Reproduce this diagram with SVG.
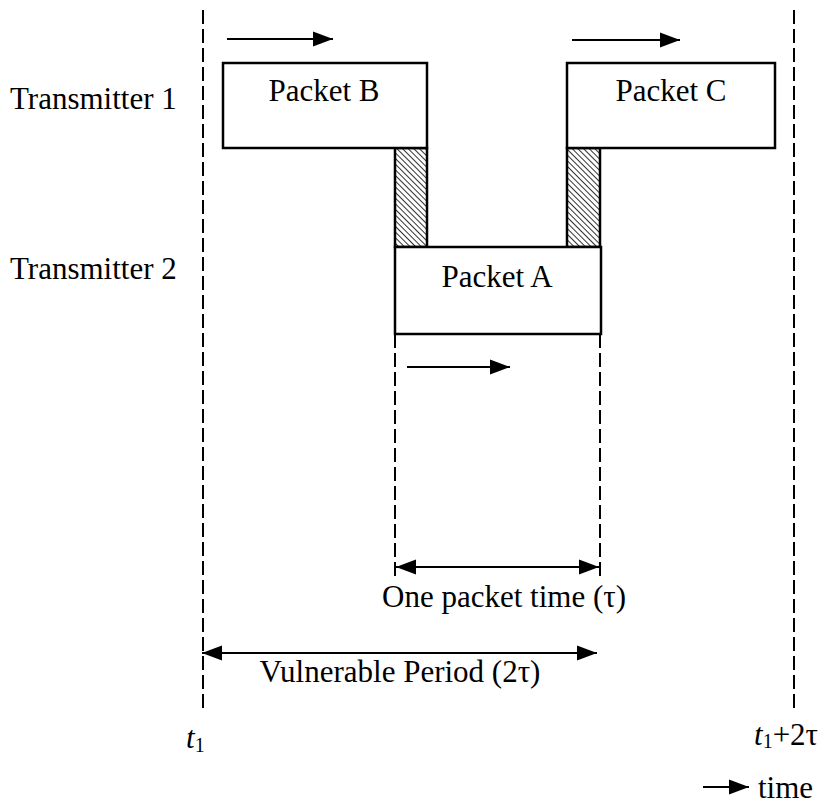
<svg xmlns="http://www.w3.org/2000/svg" width="826" height="807" viewBox="0 0 826 807">
<defs>
<style>
text{font-family:"Liberation Serif","Times New Roman",serif;font-size:31px;fill:#000}
.box{fill:#fff;stroke:#000;stroke-width:2.5}
.dash{fill:none;stroke:#000;stroke-width:2;stroke-dasharray:14 5}
.arr{fill:none;stroke:#000;stroke-width:2}
.hatch{fill:url(#hatch);stroke:#000;stroke-width:2.5}
</style>
<pattern id="hatch" patternUnits="userSpaceOnUse" width="4" height="4" patternTransform="rotate(45)">
<rect width="4" height="4" fill="#fff"/>
<line x1="0" y1="0" x2="4" y2="0" stroke="#000" stroke-width="1.6"/>
</pattern>
<marker id="ah" markerUnits="userSpaceOnUse" markerWidth="21" markerHeight="17" refX="20" refY="8.5" orient="auto-start-reverse">
<path d="M0,1 L20,8.5 L0,16 z" fill="#000"/>
</marker>
</defs>
<g id="guides">
<line class="dash" x1="203" y1="10" x2="203" y2="713"/>
<line class="dash" x1="794" y1="10" x2="794" y2="708"/>
<line class="dash" x1="395" y1="334" x2="395" y2="578"/>
<line class="dash" x1="600" y1="334" x2="600" y2="578"/>
</g>
<g id="labels">
<text x="10" y="109">Transmitter 1</text>
<text x="10" y="279">Transmitter 2</text>
</g>
<g id="collision-left"><rect class="hatch" x="395" y="148" width="32" height="99"/></g>
<g id="collision-right"><rect class="hatch" x="567" y="148" width="33" height="99"/></g>
<g id="packet-b"><rect class="box" x="223" y="63" width="204" height="85"/><text x="324" y="101" text-anchor="middle">Packet B</text></g>
<g id="packet-c"><rect class="box" x="567" y="63" width="208" height="85"/><text x="671" y="101" text-anchor="middle">Packet C</text></g>
<g id="packet-a"><rect class="box" x="395" y="247" width="206" height="87"/><text x="497" y="287" text-anchor="middle">Packet A</text></g>
<g id="connectors">
<line class="arr" x1="227" y1="39" x2="333" y2="39" marker-end="url(#ah)"/>
<line class="arr" x1="572" y1="40" x2="680" y2="40" marker-end="url(#ah)"/>
<line class="arr" x1="407" y1="367" x2="510" y2="367" marker-end="url(#ah)"/>
<line class="arr" x1="396" y1="567" x2="599" y2="567" marker-start="url(#ah)" marker-end="url(#ah)"/>
<line class="arr" x1="202" y1="653" x2="597" y2="653" marker-start="url(#ah)" marker-end="url(#ah)"/>
<line class="arr" x1="703" y1="787" x2="749" y2="787" marker-end="url(#ah)"/>
</g>
<g id="annotations">
<text x="504" y="607" text-anchor="middle">One packet time (τ)</text>
<text x="400" y="682" text-anchor="middle">Vulnerable Period (2τ)</text>
<text x="186" y="748" font-style="italic">t<tspan font-style="normal" font-size="20" dy="4">1</tspan></text>
<text x="754" y="745" font-style="italic">t<tspan font-style="normal" font-size="20" dy="3">1</tspan><tspan font-style="normal" dy="-3">+2τ</tspan></text>
<text x="758" y="798">time</text>
</g>
</svg>
